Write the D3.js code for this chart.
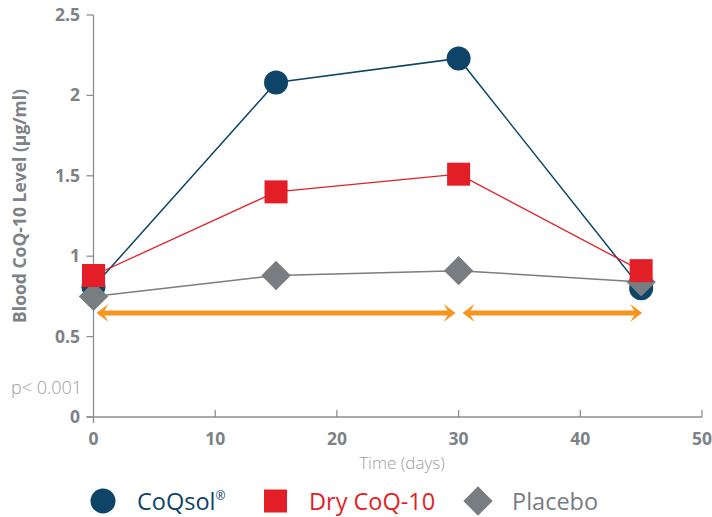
<!DOCTYPE html>
<html>
<head>
<meta charset="utf-8">
<script src="https://d3js.org/d3.v7.min.js"></script>
<style>
  body { margin: 0; background: #fff; font-family: "Open Sans", "Noto Sans", sans-serif; }
  svg text { font-family: "Open Sans", "Noto Sans", sans-serif; }
</style>
</head>
<body>
<svg id="chart" width="712" height="517"></svg>
<script>
// data
let days = [0, 15, 30, 45];
let coqsol = [0.81, 2.08, 2.23, 0.80];
let dryCoq = [0.88, 1.40, 1.51, 0.91];
let placebo = [0.75, 0.88, 0.91, 0.84];
let xTicks = [0, 10, 20, 30, 40, 50];
let yTicks = [0, 0.5, 1, 1.5, 2, 2.5];
let periods = [[0, 30], [30, 45]];
let legendNames = ["CoQsol", "Dry CoQ-10", "Placebo"];

let navy = "#0d4468", red = "#e31e26", grey = "#787d82", orange = "#f7941d", axisGrey = "#8a8f94";

let svg = d3.select("#chart");
let x = d3.scaleLinear().domain([0, 50]).range([93.5, 702]);
let y = d3.scaleLinear().domain([0, 2.5]).range([417, 15]);

// axes
svg.append("line").attr("x1", x(0)).attr("x2", x(0)).attr("y1", y(2.5)).attr("y2", y(0) + 6)
    .attr("stroke", axisGrey).attr("stroke-width", 1.3);
svg.append("line").attr("x1", x(0) - 7).attr("x2", x(50)).attr("y1", y(0)).attr("y2", y(0))
    .attr("stroke", axisGrey).attr("stroke-width", 1.3);

svg.selectAll(".ytick").data(yTicks).enter().append("line")
    .attr("x1", x(0) - 7).attr("x2", x(0)).attr("y1", d => y(d)).attr("y2", d => y(d))
    .attr("stroke", axisGrey).attr("stroke-width", 1.3);
svg.selectAll(".ylab").data(yTicks).enter().append("text")
    .attr("x", 80).attr("y", d => y(d) + 6).attr("text-anchor", "end")
    .attr("font-size", 17.5).attr("font-weight", "bold").attr("fill", "#7d8287")
    .text(d => d);

svg.selectAll(".xtick").data(xTicks.slice(1)).enter().append("line")
    .attr("x1", d => x(d)).attr("x2", d => x(d)).attr("y1", y(0) - 7).attr("y2", y(0))
    .attr("stroke", axisGrey).attr("stroke-width", 1.3);
svg.selectAll(".xlab").data(xTicks).enter().append("text")
    .attr("x", d => x(d)).attr("y", 445).attr("text-anchor", "middle")
    .attr("font-size", 17.5).attr("font-weight", "bold").attr("fill", "#7d8287")
    .text(d => d);

svg.append("text").attr("x", 402).attr("y", 469).attr("text-anchor", "middle")
    .attr("font-size", 17).attr("font-weight", 300).attr("fill", "#9a9ea2").text("Time (days)");
svg.append("text").attr("transform", "translate(26,206) rotate(-90)").attr("text-anchor", "middle")
    .attr("font-size", 17.5).attr("font-weight", "bold").attr("fill", "#7d8287")
    .text("Blood CoQ-10 Level (µg/ml)");
svg.append("text").attr("x", 11).attr("y", 394)
    .attr("font-size", 18).attr("font-weight", 300).attr("fill", "#9a9ea2").text("p< 0.001");

// period arrows
function arrow(x1, x2, yy) {
    let h = 9, w = 12, t = 2.4;
    let p = [
        [x1, yy], [x1 + w, yy - h], [x1 + w - 4, yy - t], [x2 - w + 4, yy - t], [x2 - w, yy - h],
        [x2, yy], [x2 - w, yy + h], [x2 - w + 4, yy + t], [x1 + w - 4, yy + t], [x1 + w, yy + h]
    ];
    svg.append("path").attr("d", "M" + p.join("L") + "Z").attr("fill", orange);
}
arrow(x(periods[0][0]) + 3, x(periods[0][1]) - 3, 313);
arrow(x(periods[1][0]) + 4, x(periods[1][1]) + 1, 313);

// lines
let line = d3.line().x((d, i) => x(days[i])).y(d => y(d));
svg.append("path").datum(placebo).attr("d", line).attr("fill", "none").attr("stroke", grey).attr("stroke-width", 1.5);
svg.append("path").datum(coqsol).attr("d", line).attr("fill", "none").attr("stroke", navy).attr("stroke-width", 1.5);
svg.append("path").datum(dryCoq).attr("d", line).attr("fill", "none").attr("stroke", red).attr("stroke-width", 1.3);

// markers: circles, then diamonds, then squares on top
svg.selectAll(".c").data(coqsol).enter().append("circle")
    .attr("cx", (d, i) => x(days[i])).attr("cy", d => y(d)).attr("r", 12).attr("fill", navy);
let diamond = d3.symbol().type(d3.symbolSquare).size(430);
svg.selectAll(".d").data(placebo).enter().append("path")
    .attr("d", diamond)
    .attr("transform", (d, i) => "translate(" + x(days[i]) + "," + y(d) + ") rotate(45)")
    .attr("fill", grey);
svg.selectAll(".s").data(dryCoq).enter().append("rect")
    .attr("x", (d, i) => x(days[i]) - 11.5).attr("y", d => y(d) - 11.5)
    .attr("width", 23).attr("height", 23).attr("fill", red);

// legend
let ly = 501;
svg.append("circle").attr("cx", 103).attr("cy", ly).attr("r", 12.5).attr("fill", navy);
let t1 = svg.append("text").attr("x", 137).attr("y", ly + 8.5).attr("font-size", 23.5).attr("fill", navy);
t1.append("tspan").text(legendNames[0]);
t1.append("tspan").attr("font-size", 12).attr("dy", -10).text("®");
svg.append("rect").attr("x", 264).attr("y", ly - 11.5).attr("width", 23).attr("height", 23).attr("fill", red);
svg.append("text").attr("x", 309).attr("y", ly + 8.5).attr("font-size", 23.5).attr("fill", red).text(legendNames[1]);
svg.append("path").attr("d", diamond).attr("transform", "translate(478," + ly + ") rotate(45)").attr("fill", grey);
svg.append("text").attr("x", 512).attr("y", ly + 8.5).attr("font-size", 23.5).attr("fill", grey).text(legendNames[2]);
</script>
</body>
</html>
